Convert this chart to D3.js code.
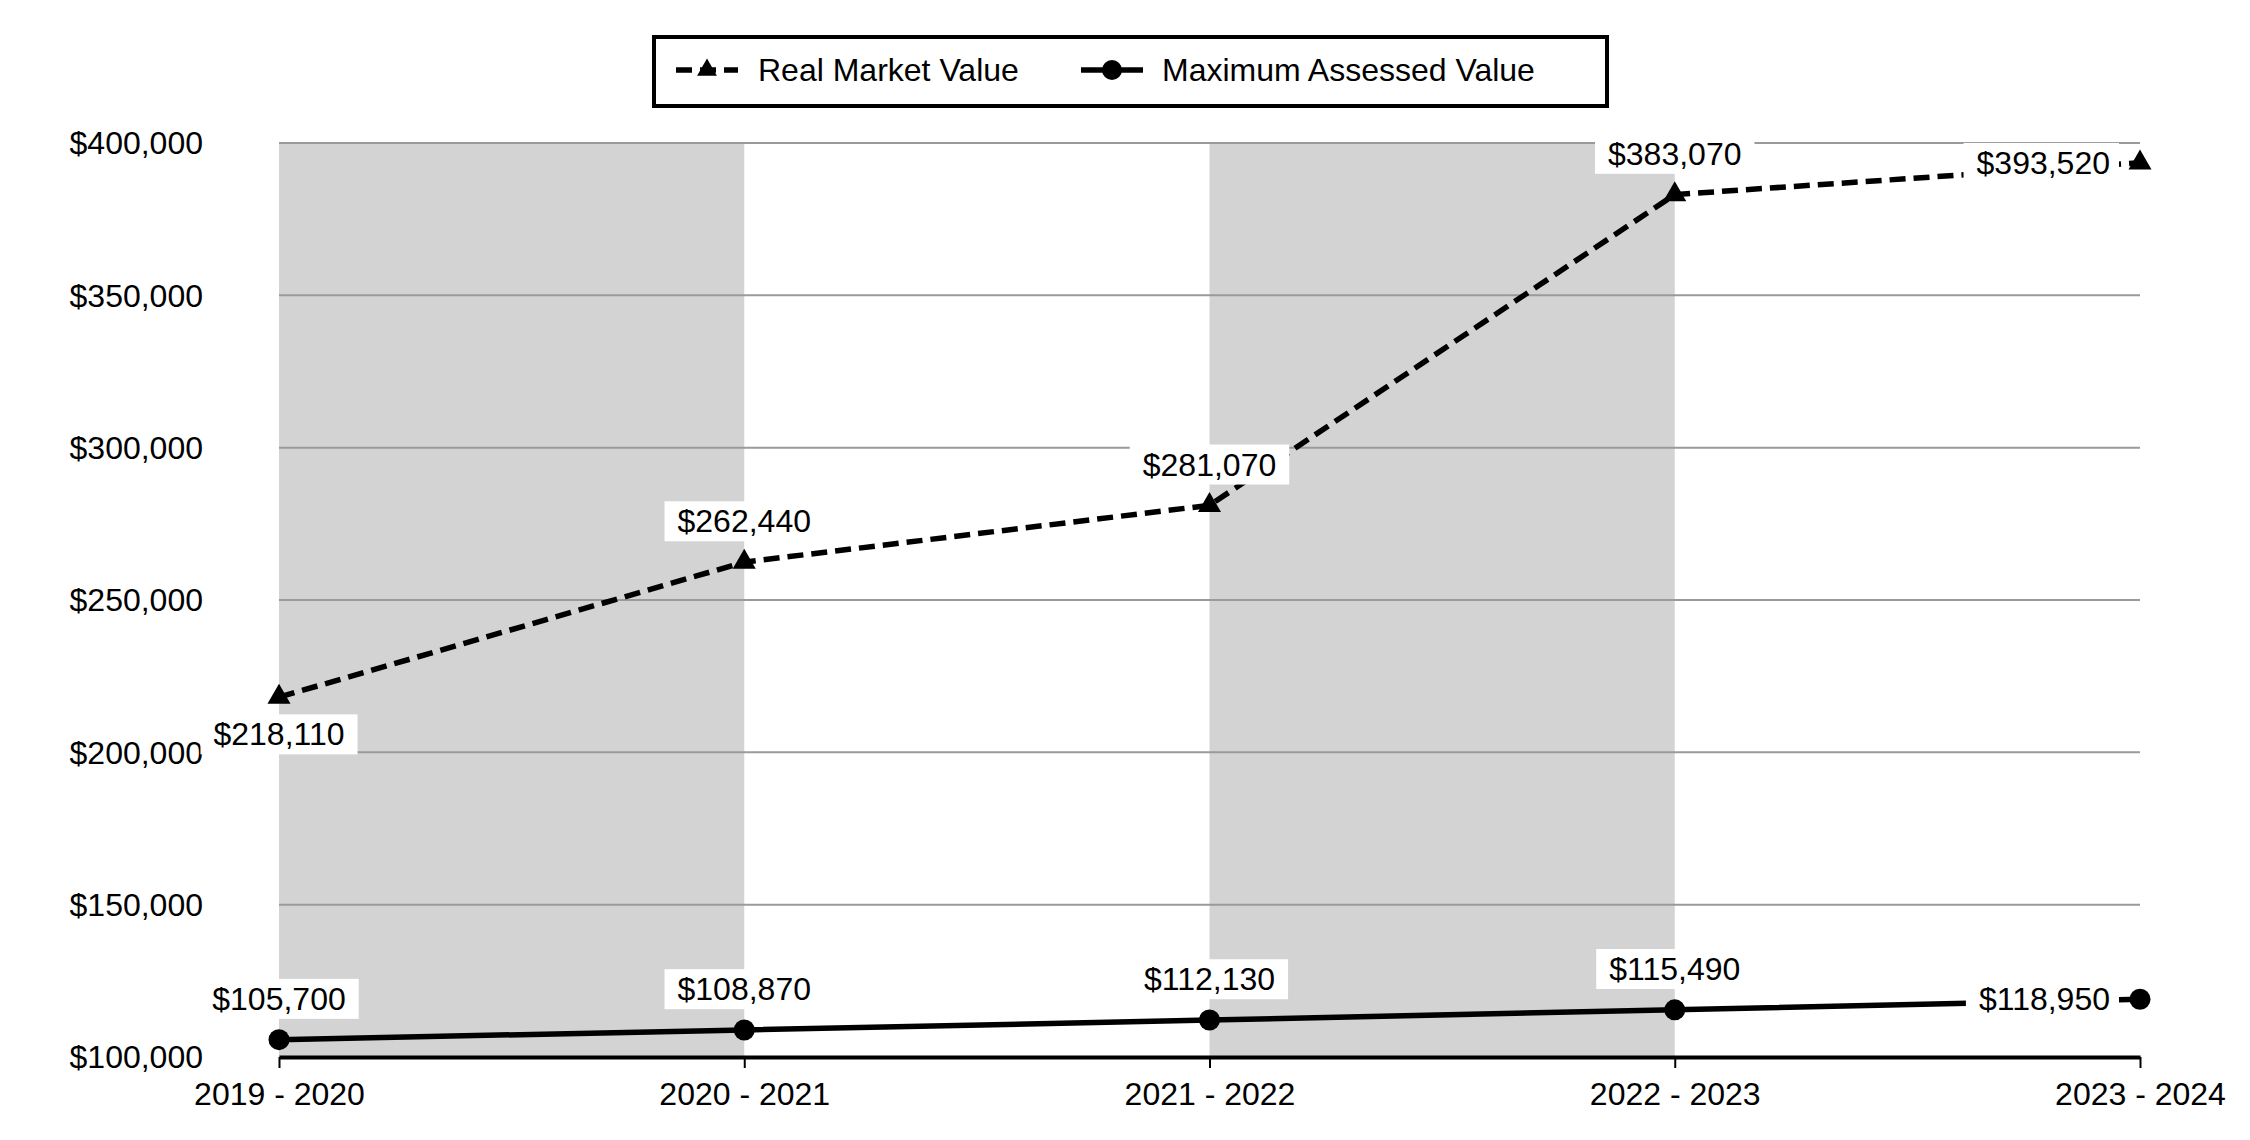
<!DOCTYPE html>
<html>
<head>
<meta charset="utf-8">
<script src="https://cdn.jsdelivr.net/npm/d3@7"></script>
<style>
  body { margin: 0; background: #fff; }
  text { font-family: "Liberation Sans", Arial, sans-serif; fill: #000; }
</style>
</head>
<body>
<div id="chart"></div>
<script>
// chart values
const years = ["2019 - 2020", "2020 - 2021", "2021 - 2022", "2022 - 2023", "2023 - 2024"];
const realMarketValue = [218110, 262440, 281070, 383070, 393520];
const maxAssessedValue = [105700, 108870, 112130, 115490, 118950];
const yTicks = [100000, 150000, 200000, 250000, 300000, 350000, 400000];
const seriesNames = ["Real Market Value", "Maximum Assessed Value"];

const width = 2250, height = 1140;
const fontSize = 32;

const svg = d3.select("#chart")
  .append("svg")
  .attr("width", width)
  .attr("height", height);

// scales
const x = d3.scalePoint().domain(years).range([279, 2150 - 10]);
const y = d3.scaleLinear().domain([100000, 400000]).range([1057, 143]);
const fmt = d3.format("$,");

// shaded bands for every other year
const step = x.step();
svg.append("g")
  .selectAll("rect")
  .data(years.slice(0, -1).filter((d, i) => i % 2 === 0))
  .join("rect")
  .attr("x", d => x(d))
  .attr("y", y(400000))
  .attr("width", step)
  .attr("height", y(100000) - y(400000))
  .attr("fill", "#d3d3d3");

// gridlines
svg.append("g")
  .selectAll("line")
  .data(yTicks.slice(1))
  .join("line")
  .attr("x1", x.range()[0])
  .attr("x2", x.range()[1])
  .attr("y1", d => y(d))
  .attr("y2", d => y(d))
  .attr("stroke", "#9a9a9a")
  .attr("stroke-width", 2);

// y axis labels
svg.append("g")
  .selectAll("text")
  .data(yTicks)
  .join("text")
  .attr("x", 203)
  .attr("y", d => y(d))
  .attr("dy", "0.35em")
  .attr("text-anchor", "end")
  .style("font-size", fontSize + "px")
  .text(d => fmt(d));

// x axis
const xAxis = svg.append("g")
  .attr("transform", `translate(0,${y(100000)})`)
  .call(d3.axisBottom(x).tickSize(11).tickPadding(14).tickSizeOuter(0));
xAxis.select(".domain").attr("stroke", "#000").attr("stroke-width", 4);
xAxis.selectAll(".tick line").attr("stroke", "#000").attr("stroke-width", 2);
xAxis.selectAll(".tick text")
  .style("font-size", fontSize + "px")
  .style("font-family", '"Liberation Sans", Arial, sans-serif')
  .attr("fill", "#000");

// lines
const line = d3.line().x((d, i) => x(years[i])).y(d => y(d));

svg.append("path")
  .datum(realMarketValue)
  .attr("d", line)
  .attr("fill", "none")
  .attr("stroke", "#000")
  .attr("stroke-width", 5.5)
  .attr("stroke-dasharray", "16,8");

svg.append("path")
  .datum(maxAssessedValue)
  .attr("d", line)
  .attr("fill", "none")
  .attr("stroke", "#000")
  .attr("stroke-width", 5.5);

// markers
const tri = d3.symbol().type(d3.symbolTriangle).size(230);
svg.append("g")
  .selectAll("path")
  .data(realMarketValue)
  .join("path")
  .attr("d", tri)
  .attr("transform", (d, i) => `translate(${x(years[i])},${y(d)})`)
  .attr("fill", "#000");

svg.append("g")
  .selectAll("circle")
  .data(maxAssessedValue)
  .join("circle")
  .attr("cx", (d, i) => x(years[i]))
  .attr("cy", d => y(d))
  .attr("r", 10.5)
  .attr("fill", "#000");

// value labels with white boxes
function addLabels(values, positions) {
  const g = svg.append("g");
  values.forEach((v, i) => {
    const px = x(years[i]), py = y(v);
    const pos = positions[i];
    const lg = g.append("g");
    const box = lg.append("rect").attr("fill", "#fff");
    const t = lg.append("text")
      .style("font-size", fontSize + "px")
      .attr("dy", "0.35em")
      .text(fmt(v));
    let padL = 13, padR = 13;
    if (pos === "left") {
      t.attr("x", px - 30).attr("y", py).attr("text-anchor", "end");
      padR = 9;
    } else {
      t.attr("x", px).attr("y", pos === "below" ? py + 37 : py - 41)
        .attr("text-anchor", "middle");
    }
    const b = t.node().getBBox();
    box.attr("x", b.x - padL).attr("y", b.y - 2)
      .attr("width", b.width + padL + padR).attr("height", b.height + 4);
  });
}
addLabels(realMarketValue, ["below", "above", "above", "above", "left"]);
addLabels(maxAssessedValue, ["above", "above", "above", "above", "left"]);

// legend
const legend = svg.append("g");
legend.append("rect")
  .attr("x", 654).attr("y", 37)
  .attr("width", 953).attr("height", 69)
  .attr("fill", "#fff")
  .attr("stroke", "#000")
  .attr("stroke-width", 4);

const ly = 70;
legend.append("line")
  .attr("x1", 676).attr("x2", 738).attr("y1", ly).attr("y2", ly)
  .attr("stroke", "#000").attr("stroke-width", 5.5)
  .attr("stroke-dasharray", "16,8");
legend.append("path")
  .attr("d", d3.symbol().type(d3.symbolTriangle).size(170))
  .attr("transform", `translate(707,${ly})`)
  .attr("fill", "#000");
legend.append("text")
  .attr("x", 758).attr("y", ly).attr("dy", "0.35em")
  .style("font-size", fontSize + "px")
  .text(seriesNames[0]);

legend.append("line")
  .attr("x1", 1081).attr("x2", 1143).attr("y1", ly).attr("y2", ly)
  .attr("stroke", "#000").attr("stroke-width", 5.5);
legend.append("circle")
  .attr("cx", 1112).attr("cy", ly).attr("r", 10)
  .attr("fill", "#000");
legend.append("text")
  .attr("x", 1162).attr("y", ly).attr("dy", "0.35em")
  .style("font-size", fontSize + "px")
  .text(seriesNames[1]);
</script>
</body>
</html>
